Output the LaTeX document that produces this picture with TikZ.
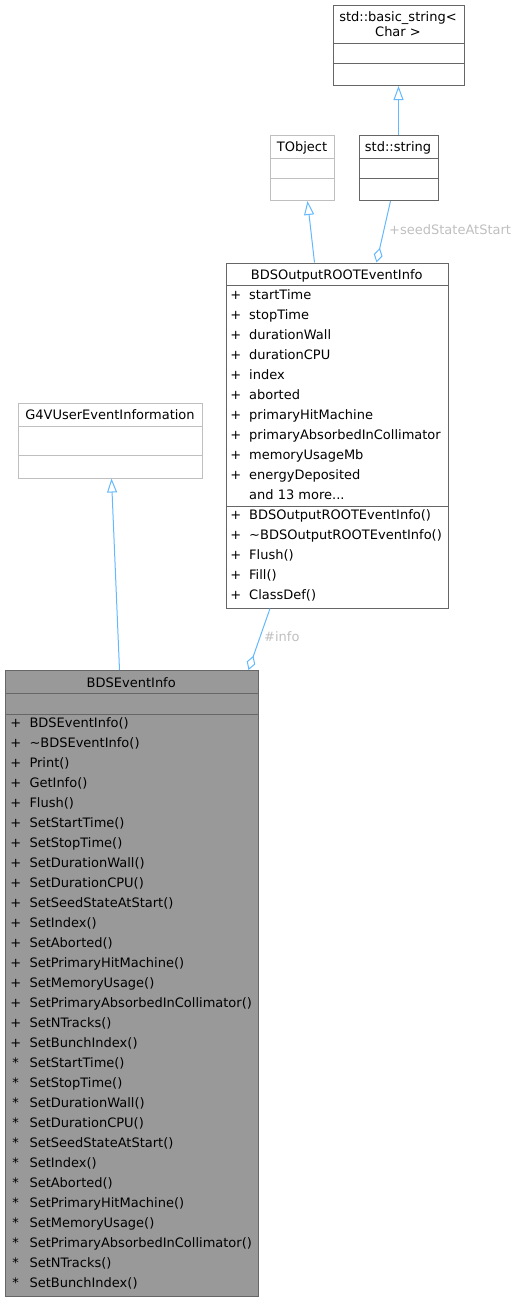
\documentclass[tikz,border=0pt]{standalone}
\usepackage{fontspec}
\setmainfont{DejaVu Sans}
\usetikzlibrary{arrows.meta}
\definecolor{edgec}{HTML}{63B8FF}
\definecolor{bord}{HTML}{666666}
\definecolor{lbord}{HTML}{BFBFBF}
\definecolor{labc}{HTML}{BFBFBF}
\definecolor{fillg}{HTML}{999999}
\begin{document}
\begin{tikzpicture}[x=1pt,y=-1pt,font=\fontsize{13}{15}\selectfont,
  box/.style={draw=bord,line width=1pt,inner sep=0pt,anchor=north west},
  lbox/.style={draw=lbord,line width=1pt,inner sep=0pt,anchor=north west},
  txt/.style={inner sep=0pt,anchor=base west},
  ctxt/.style={inner sep=0pt,anchor=base},
  labtxt/.style={inner sep=0pt,anchor=west,text=labc},
  inh/.style={draw=edgec,line width=1pt,-{Triangle[open,length=14pt,width=10pt]}},
  agg/.style={draw=edgec,line width=1pt,-{Diamond[open,length=15pt,width=9pt]}}]
\useasboundingbox (0,0) rectangle (515,1301);

% std::basic_string<Char >
\node[box,minimum width=131pt,minimum height=80pt] (bstr) at (332.5,5) {};
\draw[bord,line width=1pt] (332.5,43) -- (463.5,43) (332.5,63) -- (463.5,63);
\node[ctxt] (bstrt1) at (398,21.3) {std::basic\_string<};
\node[ctxt] (bstrt2) at (398,36.3) {Char >};

% std::string
\node[box,minimum width=79pt,minimum height=65.5pt] (str) at (358.5,134.5) {};
\draw[bord,line width=1pt] (358.5,158.5) -- (437.5,158.5) (358.5,178.5) -- (437.5,178.5);
\node[ctxt] (strt) at (398,151.3) {std::string};

% TObject
\node[lbox,minimum width=64pt,minimum height=65.5pt] (tobj) at (270,134.5) {};
\draw[lbord,line width=1pt] (270,158.5) -- (334,158.5) (270,178.5) -- (334,178.5);
\node[ctxt] (tobjt) at (302,151.3) {TObject};

% BDSOutputROOTEventInfo
\node[box,minimum width=221.5pt,minimum height=345pt] (out) at (226,262.5) {};
\draw[bord,line width=1pt] (226,285.5) -- (447.5,285.5) (226,506) -- (447.5,506);
\node[ctxt] (outt) at (336.75,279) {BDSOutputROOTEventInfo};
\foreach \t [count=\i] in {startTime,stopTime,durationWall,durationCPU,index,aborted,primaryHitMachine,primaryAbsorbedInCollimator,memoryUsageMb,energyDeposited}{
  \node[ctxt] (oap\i) at (235.7,{279+20*\i}) {+};
  \node[txt] (oa\i) at (249,{279+20*\i}) {\t};
}
\node[txt] (omore) at (249,499) {and 13 more...};
\foreach \t [count=\i] in {BDSOutputROOTEventInfo(),\textasciitilde BDSOutputROOTEventInfo(),Flush(),Fill(),ClassDef()}{
  \node[ctxt] (omp\i) at (235.7,{499+20*\i}) {+};
  \node[txt] (om\i) at (249,{499+20*\i}) {\t};
}

% G4VUserEventInformation
\node[lbox,minimum width=184pt,minimum height=75pt] (g4) at (18,402.5) {};
\draw[lbord,line width=1pt] (18,426) -- (202,426) (18,455) -- (202,455);
\node[ctxt] (g4t) at (110,419) {G4VUserEventInformation};

% BDSEventInfo
\node[box,fill=fillg,minimum width=252.5pt,minimum height=626pt] (ev) at (5,670) {};
\draw[bord,line width=1pt] (5,693.5) -- (257.5,693.5) (5,714) -- (257.5,714);
\node[ctxt] (evt) at (131.25,687) {BDSEventInfo};
\foreach \t [count=\i] in {BDSEventInfo(),\textasciitilde BDSEventInfo(),Print(),GetInfo(),Flush(),SetStartTime(),SetStopTime(),SetDurationWall(),SetDurationCPU(),SetSeedStateAtStart(),SetIndex(),SetAborted(),SetPrimaryHitMachine(),SetMemoryUsage(),SetPrimaryAbsorbedInCollimator(),SetNTracks(),SetBunchIndex()}{
  \node[ctxt] (ep\i) at (15.7,{707.4+20*\i}) {+};
  \node[txt] (e\i) at (29.3,{707.4+20*\i}) {\t};
}
\foreach \t [count=\i] in {SetStartTime(),SetStopTime(),SetDurationWall(),SetDurationCPU(),SetSeedStateAtStart(),SetIndex(),SetAborted(),SetPrimaryHitMachine(),SetMemoryUsage(),SetPrimaryAbsorbedInCollimator(),SetNTracks(),SetBunchIndex()}{
  \node[ctxt] (fp\i) at (15.7,{1047.4+20*\i}) {*};
  \node[txt] (f\i) at (29.3,{1047.4+20*\i}) {\t};
}

% connectors
\draw[inh] (str.north) -- (bstr.south);
\draw[inh] ([xshift=-22.75pt]out.north) -- ([xshift=5pt]tobj.south);
\draw[agg] ([xshift=-8pt]str.south) -- ([xshift=39.25pt]out.north);
\draw[agg] ([xshift=-67.25pt]out.south) -- ([xshift=116.75pt]ev.north);
\draw[inh] ([xshift=-12.25pt]ev.north) -- ([xshift=1pt]g4.south);

\node[labtxt] (lab1) at (389,230) {+seedStateAtStart};
\node[labtxt] (lab2) at (264,637) {\#info};
\end{tikzpicture}
\end{document}
